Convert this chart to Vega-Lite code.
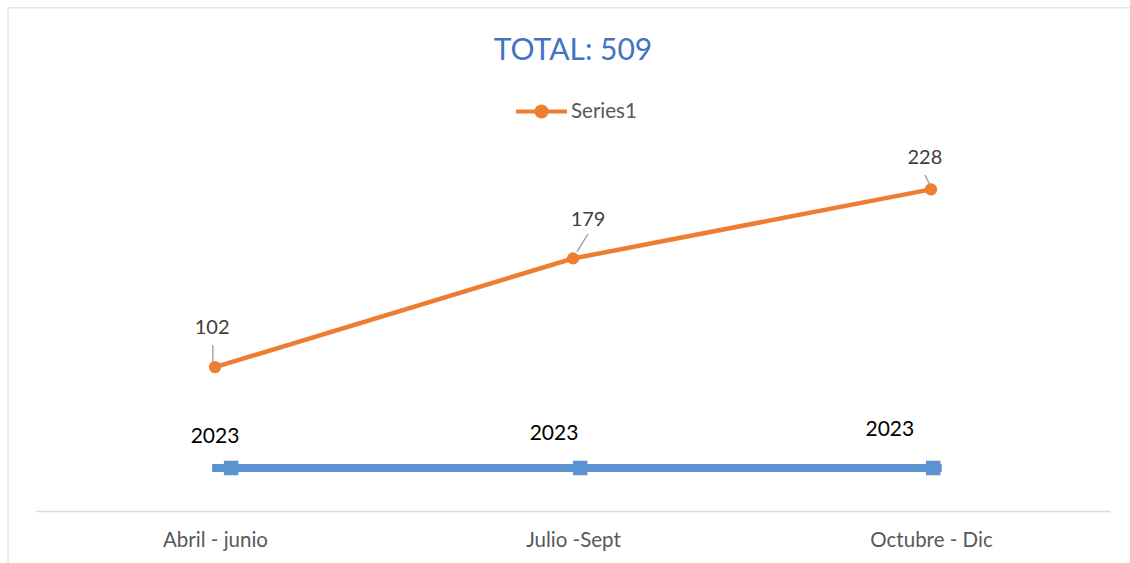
{
  "$schema": "https://vega.github.io/schema/vega-lite/v6.json",
  "autosize": "none",
  "width": 1074,
  "height": 371,
  "padding": {"left": 36, "top": 140, "right": 20, "bottom": 52},
  "background": "white",
  "config": {"view": {"stroke": null}, "font": "Lato"},
  "title": {"text": "TOTAL: 509", "fontSize": 30, "fontWeight": "normal", "color": "#4472C4", "font": "Lato", "anchor": "middle", "offset": 0, "dy": 59},
  "data": {"values": [
    {"series": "Series1", "period": "Abril - junio", "pos": 0, "value": 102, "lx": -0.008, "ly": 129.8, "l1x": -0.006, "l1y": 117.7, "l2x": -0.006, "l2y": 105.7},
    {"series": "Series1", "period": "Julio -Sept", "pos": 1, "value": 179, "lx": 1.042, "ly": 206.4, "l1x": 1.042, "l1y": 196.5, "l2x": 1.011, "l2y": 183.7},
    {"series": "Series1", "period": "Octubre - Dic", "pos": 2, "value": 228, "lx": 1.983, "ly": 250.4, "l1x": 1.983, "l1y": 238.3, "l2x": 1.997, "l2y": 231.2}
  ]},
  "layer": [
    {
      "data": {"values": [{"x1": -0.578, "x2": 2.7, "y1": 356.7, "y2": -60}]},
      "mark": {"type": "rect", "fill": null, "stroke": "#D9D9D9", "strokeWidth": 1},
      "encoding": {
        "x": {"field": "x1", "type": "quantitative", "scale": {"domain": [-0.5, 2.5], "nice": false, "zero": false}},
        "x2": {"field": "x2"},
        "y": {"field": "y1", "type": "quantitative"},
        "y2": {"field": "y2"}
      }
    },
    {
      "data": {"values": [
        {"pos": -0.008, "v": 30.5, "marker": false},
        {"pos": 0.045, "v": 30.5, "marker": true},
        {"pos": 1.02, "v": 30.5, "marker": true},
        {"pos": 2.006, "v": 30.5, "marker": true},
        {"pos": 2.03, "v": 30.5, "marker": false}
      ]},
      "layer": [
        {
          "mark": {"type": "line", "stroke": "#5B93D0", "strokeWidth": 8},
          "encoding": {
            "x": {"field": "pos", "type": "quantitative", "scale": {"domain": [-0.5, 2.5], "nice": false, "zero": false},
              "axis": {"values": [0, 1, 2], "title": null, "grid": false, "ticks": false, "domainColor": "#D9D9D9", "domainWidth": 1.5,
                "labelExpr": "datum.value == 0 ? 'Abril - junio' : datum.value == 1 ? 'Julio -Sept' : 'Octubre - Dic'",
                "labelFontSize": 20.5, "labelColor": "#595959", "labelFont": "Lato", "labelPadding": 19}},
            "y": {"field": "v", "type": "quantitative", "scale": {"domain": [0, 263], "nice": false}, "axis": null}
          }
        },
        {
          "transform": [{"filter": "datum.marker"}],
          "mark": {"type": "square", "fill": "#5B93D0", "opacity": 1, "size": 210},
          "encoding": {
            "x": {"field": "pos", "type": "quantitative"},
            "y": {"field": "v", "type": "quantitative"}
          }
        }
      ]
    },
    {
      "data": {"values": [
        {"pos": 0.0, "v": 52.5, "label": "2023"},
        {"pos": 0.947, "v": 54.6, "label": "2023"},
        {"pos": 1.885, "v": 57.4, "label": "2023"}
      ]},
      "mark": {"type": "text", "fontSize": 21, "color": "#000000", "font": "Lato", "baseline": "middle", "align": "center"},
      "encoding": {
        "x": {"field": "pos", "type": "quantitative"},
        "y": {"field": "v", "type": "quantitative"},
        "text": {"field": "label"}
      }
    },
    {
      "mark": {"type": "rule", "stroke": "#A6A6A6", "strokeWidth": 1.5},
      "encoding": {
        "x": {"field": "l1x", "type": "quantitative"},
        "y": {"field": "l1y", "type": "quantitative"},
        "x2": {"field": "l2x"},
        "y2": {"field": "l2y"}
      }
    },
    {
      "mark": {"type": "line", "strokeWidth": 4.5, "point": {"filled": true, "size": 150}},
      "encoding": {
        "x": {"field": "pos", "type": "quantitative"},
        "y": {"field": "value", "type": "quantitative"},
        "color": {"field": "series", "type": "nominal", "scale": {"range": ["#ED7D31"]},
          "legend": {"title": null, "orient": "none", "legendX": 478, "legendY": -56,
            "symbolType": "M-1,0L-0.2,0M0.2,0L1,0M-0.2,0A0.2,0.2 0 1,1 0.2,0A0.2,0.2 0 1,1 -0.2,0",
            "symbolSize": 2600, "symbolStrokeWidth": 4, "symbolFillColor": "#ED7D31", "symbolStrokeColor": "#ED7D31",
            "labelFontSize": 20.5, "labelColor": "#595959", "labelFont": "Lato", "labelOffset": 2}}
      }
    },
    {
      "mark": {"type": "text", "fontSize": 20, "color": "#404040", "font": "Lato", "baseline": "middle", "align": "center"},
      "encoding": {
        "x": {"field": "lx", "type": "quantitative"},
        "y": {"field": "ly", "type": "quantitative"},
        "text": {"field": "value"}
      }
    }
  ]
}
